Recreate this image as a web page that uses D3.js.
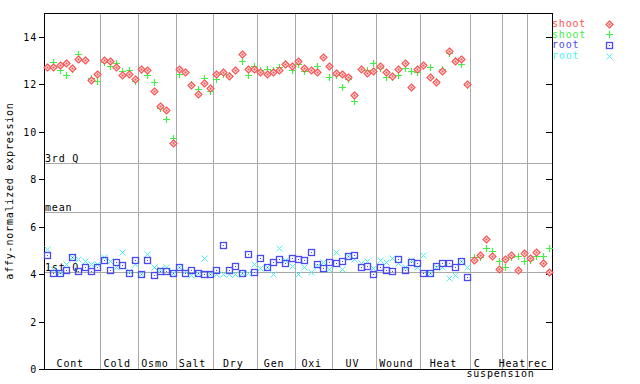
<!DOCTYPE html>
<html><head><meta charset="utf-8">
<script src="https://cdn.jsdelivr.net/npm/d3@7"></script>
<style>
html,body{margin:0;padding:0;background:#fff;}
svg text{font-family:"DejaVu Sans Mono",monospace;font-size:10px;letter-spacing:0.8px;}
</style></head>
<body>
<svg id="chart" width="640" height="384"></svg>
<script>
// ---- data ----
const groups = ["Cont","Cold","Osmo","Salt","Dry","Gen","Oxi","UV","Wound","Heat","C suspension","Heat","rec"];
const groupSizes = [9,6,6,6,7,6,6,7,7,8,5,4,4];
const shootRep1 = [12.72,12.74,12.83,12.89,12.69,13.05,13.02,12.19,12.45,
  13.02,12.99,12.74,12.40,12.44,12.23,
  12.65,12.61,11.70,11.08,10.92,9.53,
  12.62,12.53,11.95,11.60,12.06,11.82,
  12.44,12.53,12.36,12.61,13.29,12.65,12.65,
  12.53,12.44,12.53,12.61,12.86,12.78,
  12.99,12.69,12.61,12.53,13.16,12.78,
  12.47,12.45,12.30,11.56,12.65,12.48,12.57,
  12.78,12.50,12.36,12.65,12.88,11.89,12.65,
  12.82,12.32,12.10,12.57,13.41,12.99,13.07,12.02,
  4.60,4.81,5.48,4.77,4.22,
  4.64,4.81,4.18,4.89,
  4.68,4.93,4.47,4.09];
const shootRep2 = [12.72,12.95,12.61,12.40,12.65,13.29,13.02,12.27,12.15,
  12.95,12.78,12.89,12.57,12.61,12.15,
  12.61,12.40,12.10,10.99,10.54,9.74,
  12.44,12.51,12.02,11.79,12.27,11.71,
  12.22,12.44,12.40,12.58,12.99,12.40,12.78,
  12.61,12.65,12.61,12.74,12.90,12.61,
  12.86,12.57,12.60,12.78,13.16,12.32,
  12.40,11.89,12.23,11.30,12.65,12.61,12.90,
  12.69,12.32,12.32,12.40,12.69,12.57,12.53,
  12.82,12.74,12.15,12.65,13.33,13.03,12.86,11.98,
  4.72,4.72,5.10,4.98,4.55,
  4.30,4.72,4.77,4.55,
  4.60,4.77,4.77,5.10];
const rootRep1 = [4.81,4.05,4.05,4.18,4.72,4.13,4.30,4.13,4.30,
  4.60,4.18,4.51,4.39,4.05,4.60,
  4.01,4.60,3.96,4.13,4.13,4.05,
  4.30,4.05,4.18,4.05,4.01,4.01,
  4.18,5.23,4.18,4.34,4.05,4.85,4.09,
  4.68,4.30,4.51,4.64,4.47,4.68,
  4.64,4.60,4.93,4.43,4.26,4.51,
  4.47,4.55,4.77,4.81,4.30,4.34,4.01,
  4.30,4.18,4.13,4.64,4.18,4.51,4.47,
  4.05,4.05,4.34,4.47,4.47,4.30,4.55,3.88];
const rootRep2 = [5.06,4.20,4.07,4.43,4.72,4.64,4.55,4.43,4.43,
  4.72,4.55,4.30,4.93,4.13,4.43,
  4.01,4.85,4.30,4.22,4.30,4.05,
  4.30,4.13,3.96,4.05,4.68,4.01,
  4.01,4.01,4.01,4.01,4.05,4.05,4.43,
  4.26,4.30,4.01,5.10,4.60,4.34,
  4.01,4.30,4.09,4.34,4.51,4.22,
  4.93,4.22,4.77,4.64,4.47,4.55,4.26,
  4.60,4.51,4.68,4.47,4.30,4.60,4.30,
  4.81,4.05,4.30,4.30,3.84,3.96,4.55,4.30];
const refLabels = ["3rd Q","mean","1st Q"];
const refValues = [8.69,6.62,4.08];
const yTicks = [0,2,4,6,8,10,12,14];
const seriesNames = ["shoot","shoot","root","root"];

// ---- layout ----
const L=44, R=552, T=13, B=369;
const svg = d3.select("#chart");
const nSamples = d3.sum(groupSizes);
const x = d3.scaleBand().domain(d3.range(nSamples)).range([L,R]).padding(0);
const y = d3.scaleLinear().domain([0,15]).range([B,T]);
const bw = x.bandwidth();
const cx = i => x(i) + bw/2;

// reference lines
refValues.forEach((v,k)=>{
  svg.append("line").attr("x1",L).attr("x2",R).attr("y1",Math.round(y(v))+0.5).attr("y2",Math.round(y(v))+0.5)
    .attr("stroke","#a8a8a8").attr("stroke-width",1);
  svg.append("text").attr("x",L+1).attr("y",Math.round(y(v))-1).attr("fill","#000").text(refLabels[k]);
});

// group separators & labels
let start=0;
const starts=[];
groupSizes.forEach(s=>{starts.push(start); start+=s;});
starts.forEach((s,k)=>{
  if(k>0){
    const xx=Math.round(x(s))+0.5;
    svg.append("line").attr("x1",xx).attr("x2",xx).attr("y1",T).attr("y2",B).attr("stroke","#a8a8a8").attr("stroke-width",1);
  }
});
starts.forEach((s,k)=>{
  const x0=x(s), x1=x(s+groupSizes[k]-1)+bw, mid=(x0+x1)/2;
  const words = groups[k].split(" ");
  if(words.length>1){
    svg.append("text").attr("x",mid-9).attr("y",367).attr("text-anchor","middle").text(words[0]);
    svg.append("text").attr("x",x0-4).attr("y",377).attr("text-anchor","start").text(words.slice(1).join(" "));
  } else {
    svg.append("text").attr("x",mid-2).attr("y",367).attr("text-anchor","middle").text(groups[k]);
  }
});

// frame
svg.append("rect").attr("x",L+0.5).attr("y",T+0.5).attr("width",R-L).attr("height",B-T)
  .attr("fill","none").attr("stroke","#000").attr("stroke-width",1);

// axis ticks & labels
yTicks.forEach(t=>{
  const yy=Math.round(y(t))+0.5;
  svg.append("line").attr("x1",L-5).attr("x2",L).attr("y1",yy).attr("y2",yy).attr("stroke","#000");
  svg.append("line").attr("x1",R-6).attr("x2",R).attr("y1",yy).attr("y2",yy).attr("stroke","#000");
  svg.append("text").attr("x",37).attr("y",yy+3.5).attr("text-anchor","end").text(t);
});
svg.append("text").attr("transform","translate(13,"+((T+B)/2)+") rotate(-90)")
  .attr("text-anchor","middle").text("affy-normalized expression");

// markers
const colors=["#ff4c4c","#44ee44","#4a4af4","#4cf4f4"];
function marker(g,type,px,py){
  px=Math.round(px)+0.5; py=Math.round(py)+0.5;
  if(type===0){
    g.append("path").attr("d",`M${px},${py-3.5}L${px+3.5},${py}L${px},${py+3.5}L${px-3.5},${py}Z`)
      .attr("fill","#fff0f0").attr("stroke",colors[0]).attr("stroke-width",1.1);
    g.append("rect").attr("x",px-1).attr("y",py-1).attr("width",2).attr("height",2).attr("fill",colors[0]);
  } else if(type===1){
    g.append("path").attr("d",`M${px-3.5},${py}H${px+3.5}M${px},${py-3.5}V${py+3.5}`)
      .attr("stroke",colors[1]).attr("stroke-width",1.2).attr("fill","none");
  } else if(type===2){
    g.append("rect").attr("x",px-3).attr("y",py-3).attr("width",6).attr("height",6)
      .attr("fill","none").attr("stroke",colors[2]).attr("stroke-width",1.3);
    g.append("rect").attr("x",px-0.5).attr("y",py-0.5).attr("width",1).attr("height",1).attr("fill",colors[2]);
  } else {
    g.append("path").attr("d",`M${px-3},${py-3}L${px+3},${py+3}M${px-3},${py+3}L${px+3},${py-3}`)
      .attr("stroke",colors[3]).attr("stroke-width",1).attr("fill","none");
  }
}
const gPts = svg.append("g");
const series=[shootRep1,shootRep2,rootRep1,rootRep2];
[3,2,1,0].forEach(k=>{
  series[k].forEach((v,i)=>marker(gPts,k,cx(i),y(v)));
});

// legend
const legY=[27,37.7,48.3,59];
seriesNames.forEach((n,k)=>{
  svg.append("text").attr("x",552).attr("y",legY[k]).attr("fill",colors[k]).text(n);
  marker(svg,k,609,legY[k]-3.5);
});
</script>
</body></html>
